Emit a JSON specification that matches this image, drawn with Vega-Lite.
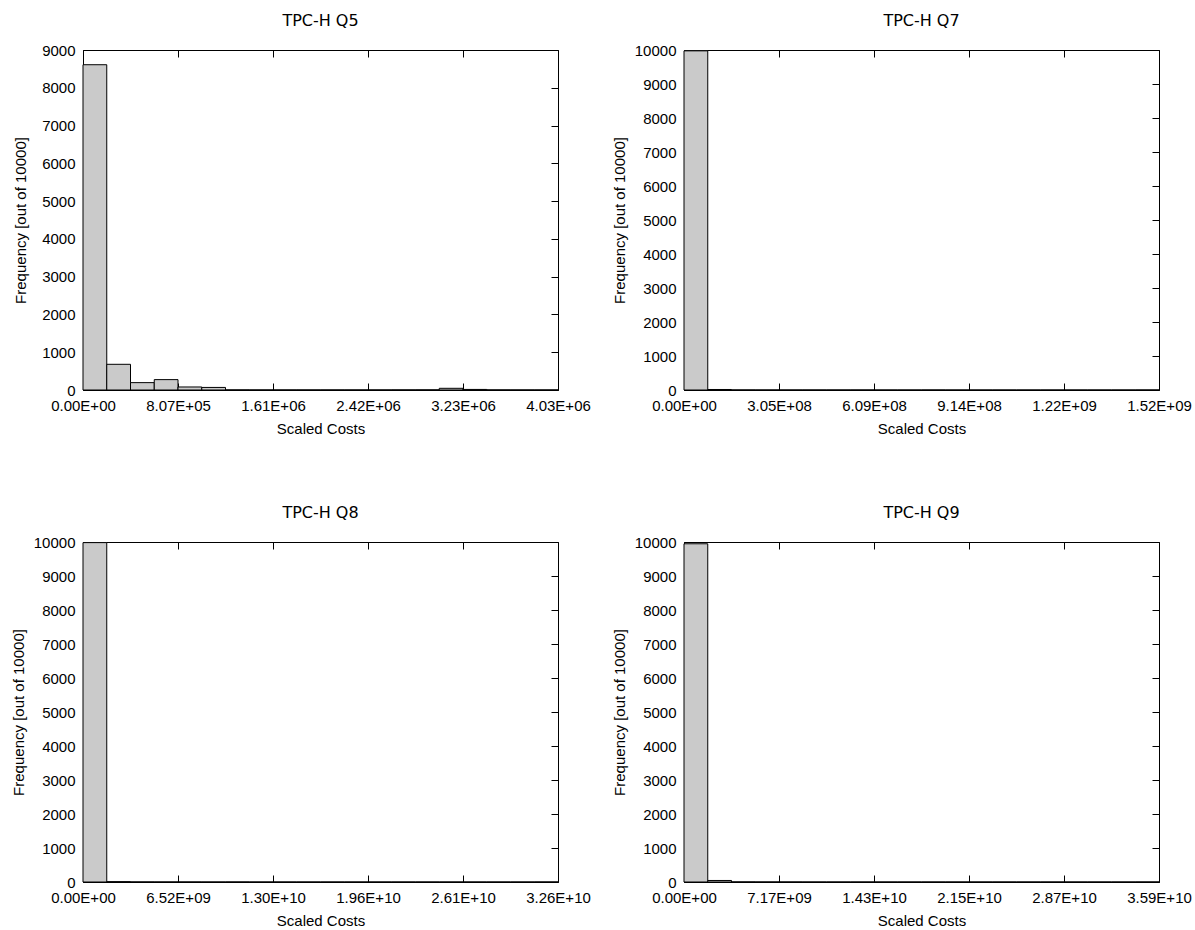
{
  "$schema": "https://vega.github.io/schema/vega-lite/v6.json",
  "padding": {"left": 10, "top": 12, "right": 5, "bottom": 2},
  "background": "white",
  "bounds": "flush",
  "columns": 2,
  "spacing": {"row": 152, "column": 126},
  "data": {"values": [
    {"query": "Q5", "start": 0, "end": 201700, "count": 8610},
    {"query": "Q5", "start": 201700, "end": 403400, "count": 680},
    {"query": "Q5", "start": 403400, "end": 605100, "count": 195},
    {"query": "Q5", "start": 605100, "end": 806800, "count": 275},
    {"query": "Q5", "start": 806800, "end": 1008500, "count": 80},
    {"query": "Q5", "start": 1008500, "end": 1210200, "count": 68},
    {"query": "Q5", "start": 1210200, "end": 1411900, "count": 3},
    {"query": "Q5", "start": 1411900, "end": 1613600, "count": 2},
    {"query": "Q5", "start": 1613600, "end": 1815300, "count": 2},
    {"query": "Q5", "start": 1815300, "end": 2017000, "count": 2},
    {"query": "Q5", "start": 2017000, "end": 2218700, "count": 2},
    {"query": "Q5", "start": 2218700, "end": 2420400, "count": 2},
    {"query": "Q5", "start": 2420400, "end": 2622100, "count": 2},
    {"query": "Q5", "start": 2622100, "end": 2823800, "count": 3},
    {"query": "Q5", "start": 2823800, "end": 3025500, "count": 4},
    {"query": "Q5", "start": 3025500, "end": 3227200, "count": 45},
    {"query": "Q5", "start": 3227200, "end": 3428900, "count": 15},
    {"query": "Q5", "start": 3428900, "end": 3630600, "count": 3},
    {"query": "Q5", "start": 3630600, "end": 3832300, "count": 2},
    {"query": "Q5", "start": 3832300, "end": 4034000, "count": 2},
    {"query": "Q7", "start": 0, "end": 76150000, "count": 9975},
    {"query": "Q7", "start": 76150000, "end": 152300000, "count": 15},
    {"query": "Q7", "start": 152300000, "end": 228450000, "count": 2},
    {"query": "Q7", "start": 228450000, "end": 304600000, "count": 1},
    {"query": "Q7", "start": 304600000, "end": 380750000, "count": 1},
    {"query": "Q7", "start": 380750000, "end": 456900000, "count": 1},
    {"query": "Q7", "start": 456900000, "end": 533050000, "count": 1},
    {"query": "Q7", "start": 533050000, "end": 609200000, "count": 1},
    {"query": "Q7", "start": 609200000, "end": 685350000, "count": 0},
    {"query": "Q7", "start": 685350000, "end": 761500000, "count": 0},
    {"query": "Q7", "start": 761500000, "end": 837650000, "count": 1},
    {"query": "Q7", "start": 837650000, "end": 913800000, "count": 0},
    {"query": "Q7", "start": 913800000, "end": 989950000, "count": 0},
    {"query": "Q7", "start": 989950000, "end": 1066100000, "count": 0},
    {"query": "Q7", "start": 1066100000, "end": 1142250000, "count": 0},
    {"query": "Q7", "start": 1142250000, "end": 1218400000, "count": 0},
    {"query": "Q7", "start": 1218400000, "end": 1294550000, "count": 0},
    {"query": "Q7", "start": 1294550000, "end": 1370700000, "count": 0},
    {"query": "Q7", "start": 1370700000, "end": 1446850000, "count": 0},
    {"query": "Q7", "start": 1446850000, "end": 1523000000, "count": 1},
    {"query": "Q8", "start": 0, "end": 1630000000, "count": 9982},
    {"query": "Q8", "start": 1630000000, "end": 3260000000, "count": 10},
    {"query": "Q8", "start": 3260000000, "end": 4890000000, "count": 2},
    {"query": "Q8", "start": 4890000000, "end": 6520000000, "count": 1},
    {"query": "Q8", "start": 6520000000, "end": 8150000000, "count": 1},
    {"query": "Q8", "start": 8150000000, "end": 9780000000, "count": 0},
    {"query": "Q8", "start": 9780000000, "end": 11410000000, "count": 1},
    {"query": "Q8", "start": 11410000000, "end": 13040000000, "count": 0},
    {"query": "Q8", "start": 13040000000, "end": 14670000000, "count": 0},
    {"query": "Q8", "start": 14670000000, "end": 16300000000, "count": 0},
    {"query": "Q8", "start": 16300000000, "end": 17930000000, "count": 0},
    {"query": "Q8", "start": 17930000000, "end": 19560000000, "count": 0},
    {"query": "Q8", "start": 19560000000, "end": 21190000000, "count": 0},
    {"query": "Q8", "start": 21190000000, "end": 22820000000, "count": 0},
    {"query": "Q8", "start": 22820000000, "end": 24450000000, "count": 0},
    {"query": "Q8", "start": 24450000000, "end": 26080000000, "count": 0},
    {"query": "Q8", "start": 26080000000, "end": 27710000000, "count": 0},
    {"query": "Q8", "start": 27710000000, "end": 29340000000, "count": 0},
    {"query": "Q8", "start": 29340000000, "end": 30970000000, "count": 0},
    {"query": "Q8", "start": 30970000000, "end": 32600000000, "count": 1},
    {"query": "Q9", "start": 0, "end": 1793000000, "count": 9948},
    {"query": "Q9", "start": 1793000000, "end": 3586000000, "count": 45},
    {"query": "Q9", "start": 3586000000, "end": 5379000000, "count": 3},
    {"query": "Q9", "start": 5379000000, "end": 7172000000, "count": 1},
    {"query": "Q9", "start": 7172000000, "end": 8965000000, "count": 1},
    {"query": "Q9", "start": 8965000000, "end": 10758000000, "count": 0},
    {"query": "Q9", "start": 10758000000, "end": 12551000000, "count": 0},
    {"query": "Q9", "start": 12551000000, "end": 14344000000, "count": 0},
    {"query": "Q9", "start": 14344000000, "end": 16137000000, "count": 0},
    {"query": "Q9", "start": 16137000000, "end": 17930000000, "count": 0},
    {"query": "Q9", "start": 17930000000, "end": 19723000000, "count": 0},
    {"query": "Q9", "start": 19723000000, "end": 21516000000, "count": 0},
    {"query": "Q9", "start": 21516000000, "end": 23309000000, "count": 0},
    {"query": "Q9", "start": 23309000000, "end": 25102000000, "count": 0},
    {"query": "Q9", "start": 25102000000, "end": 26895000000, "count": 0},
    {"query": "Q9", "start": 26895000000, "end": 28688000000, "count": 0},
    {"query": "Q9", "start": 28688000000, "end": 30481000000, "count": 0},
    {"query": "Q9", "start": 30481000000, "end": 32274000000, "count": 0},
    {"query": "Q9", "start": 32274000000, "end": 34067000000, "count": 0},
    {"query": "Q9", "start": 34067000000, "end": 35860000000, "count": 1}
  ]},
  "concat": [
    {
      "title": "TPC-H Q5",
      "width": 475, "height": 340,
      "transform": [{"filter": "datum.query == 'Q5'"}],
      "layer": [
        {"mark": {"type": "rect", "fill": "#cacaca", "stroke": "black", "strokeWidth": 1},
         "encoding": {
           "x": {"field": "start", "type": "quantitative", "scale": {"domain": [0, 4034000], "nice": false},
                 "axis": {"orient": "bottom", "title": "Scaled Costs", "values": [0, 806800, 1613600, 2420400, 3227200, 4034000],
                          "labelExpr": "indexof(upper(format(datum.value,'.2e')),'+') == length(upper(format(datum.value,'.2e'))) - 2 ? replace(upper(format(datum.value,'.2e')),'+','+0') : upper(format(datum.value,'.2e'))"}},
           "x2": {"field": "end"},
           "y": {"field": "count", "type": "quantitative", "scale": {"domain": [0, 9000], "nice": false},
                 "axis": {"orient": "left", "title": "Frequency [out of 10000]", "format": "d", "titlePadding": 13, "values": [0, 1000, 2000, 3000, 4000, 5000, 6000, 7000, 8000, 9000]}},
           "y2": {"datum": 0}
         }},
        {"mark": {"type": "rect", "opacity": 0},
         "encoding": {
           "x": {"field": "start", "type": "quantitative", "axis": {"orient": "top", "title": null, "labels": false, "values": [0, 806800, 1613600, 2420400, 3227200, 4034000]}},
           "x2": {"field": "end"},
           "y": {"field": "count", "type": "quantitative", "axis": {"orient": "right", "title": null, "labels": false, "values": [0, 1000, 2000, 3000, 4000, 5000, 6000, 7000, 8000, 9000]}},
           "y2": {"datum": 0}
         }}
      ],
      "resolve": {"axis": {"x": "independent", "y": "independent"}}
    },
    {
      "title": "TPC-H Q7",
      "width": 475, "height": 340,
      "transform": [{"filter": "datum.query == 'Q7'"}],
      "layer": [
        {"mark": {"type": "rect", "fill": "#cacaca", "stroke": "black", "strokeWidth": 1},
         "encoding": {
           "x": {"field": "start", "type": "quantitative", "scale": {"domain": [0, 1523000000], "nice": false},
                 "axis": {"orient": "bottom", "title": "Scaled Costs", "values": [0, 304600000, 609200000, 913800000, 1218400000, 1523000000],
                          "labelExpr": "indexof(upper(format(datum.value,'.2e')),'+') == length(upper(format(datum.value,'.2e'))) - 2 ? replace(upper(format(datum.value,'.2e')),'+','+0') : upper(format(datum.value,'.2e'))"}},
           "x2": {"field": "end"},
           "y": {"field": "count", "type": "quantitative", "scale": {"domain": [0, 10000], "nice": false},
                 "axis": {"orient": "left", "title": "Frequency [out of 10000]", "format": "d", "titlePadding": 7, "values": [0, 1000, 2000, 3000, 4000, 5000, 6000, 7000, 8000, 9000, 10000]}},
           "y2": {"datum": 0}
         }},
        {"mark": {"type": "rect", "opacity": 0},
         "encoding": {
           "x": {"field": "start", "type": "quantitative", "axis": {"orient": "top", "title": null, "labels": false, "values": [0, 304600000, 609200000, 913800000, 1218400000, 1523000000]}},
           "x2": {"field": "end"},
           "y": {"field": "count", "type": "quantitative", "axis": {"orient": "right", "title": null, "labels": false, "values": [0, 1000, 2000, 3000, 4000, 5000, 6000, 7000, 8000, 9000, 10000]}},
           "y2": {"datum": 0}
         }}
      ],
      "resolve": {"axis": {"x": "independent", "y": "independent"}}
    },
    {
      "title": "TPC-H Q8",
      "width": 475, "height": 340,
      "transform": [{"filter": "datum.query == 'Q8'"}],
      "layer": [
        {"mark": {"type": "rect", "fill": "#cacaca", "stroke": "black", "strokeWidth": 1},
         "encoding": {
           "x": {"field": "start", "type": "quantitative", "scale": {"domain": [0, 32600000000], "nice": false},
                 "axis": {"orient": "bottom", "title": "Scaled Costs", "values": [0, 6520000000, 13040000000, 19560000000, 26080000000, 32600000000],
                          "labelExpr": "indexof(upper(format(datum.value,'.2e')),'+') == length(upper(format(datum.value,'.2e'))) - 2 ? replace(upper(format(datum.value,'.2e')),'+','+0') : upper(format(datum.value,'.2e'))"}},
           "x2": {"field": "end"},
           "y": {"field": "count", "type": "quantitative", "scale": {"domain": [0, 10000], "nice": false},
                 "axis": {"orient": "left", "title": "Frequency [out of 10000]", "format": "d", "titlePadding": 7, "values": [0, 1000, 2000, 3000, 4000, 5000, 6000, 7000, 8000, 9000, 10000]}},
           "y2": {"datum": 0}
         }},
        {"mark": {"type": "rect", "opacity": 0},
         "encoding": {
           "x": {"field": "start", "type": "quantitative", "axis": {"orient": "top", "title": null, "labels": false, "values": [0, 6520000000, 13040000000, 19560000000, 26080000000, 32600000000]}},
           "x2": {"field": "end"},
           "y": {"field": "count", "type": "quantitative", "axis": {"orient": "right", "title": null, "labels": false, "values": [0, 1000, 2000, 3000, 4000, 5000, 6000, 7000, 8000, 9000, 10000]}},
           "y2": {"datum": 0}
         }}
      ],
      "resolve": {"axis": {"x": "independent", "y": "independent"}}
    },
    {
      "title": "TPC-H Q9",
      "width": 475, "height": 340,
      "transform": [{"filter": "datum.query == 'Q9'"}],
      "layer": [
        {"mark": {"type": "rect", "fill": "#cacaca", "stroke": "black", "strokeWidth": 1},
         "encoding": {
           "x": {"field": "start", "type": "quantitative", "scale": {"domain": [0, 35860000000], "nice": false},
                 "axis": {"orient": "bottom", "title": "Scaled Costs", "values": [0, 7172000000, 14344000000, 21516000000, 28688000000, 35860000000],
                          "labelExpr": "indexof(upper(format(datum.value,'.2e')),'+') == length(upper(format(datum.value,'.2e'))) - 2 ? replace(upper(format(datum.value,'.2e')),'+','+0') : upper(format(datum.value,'.2e'))"}},
           "x2": {"field": "end"},
           "y": {"field": "count", "type": "quantitative", "scale": {"domain": [0, 10000], "nice": false},
                 "axis": {"orient": "left", "title": "Frequency [out of 10000]", "format": "d", "titlePadding": 7, "values": [0, 1000, 2000, 3000, 4000, 5000, 6000, 7000, 8000, 9000, 10000]}},
           "y2": {"datum": 0}
         }},
        {"mark": {"type": "rect", "opacity": 0},
         "encoding": {
           "x": {"field": "start", "type": "quantitative", "axis": {"orient": "top", "title": null, "labels": false, "values": [0, 7172000000, 14344000000, 21516000000, 28688000000, 35860000000]}},
           "x2": {"field": "end"},
           "y": {"field": "count", "type": "quantitative", "axis": {"orient": "right", "title": null, "labels": false, "values": [0, 1000, 2000, 3000, 4000, 5000, 6000, 7000, 8000, 9000, 10000]}},
           "y2": {"datum": 0}
         }}
      ],
      "resolve": {"axis": {"x": "independent", "y": "independent"}}
    }
  ],
  "config": {
    "view": {"stroke": "black", "strokeWidth": 1},
    "title": {"font": "DejaVu Sans", "fontSize": 16, "fontWeight": "normal", "color": "black", "offset": 14},
    "axis": {
      "domain": false, "grid": false,
      "tickSize": -7, "tickColor": "black", "tickWidth": 1,
      "labelFont": "Liberation Sans", "labelFontSize": 15, "labelColor": "black",
      "labelPadding": 15, "labelFlush": false, "labelOverlap": false,
      "titleFont": "Liberation Sans", "titleFontSize": 15, "titleFontWeight": "normal", "titleColor": "black",
      "titlePadding": 8
    }
  }
}
